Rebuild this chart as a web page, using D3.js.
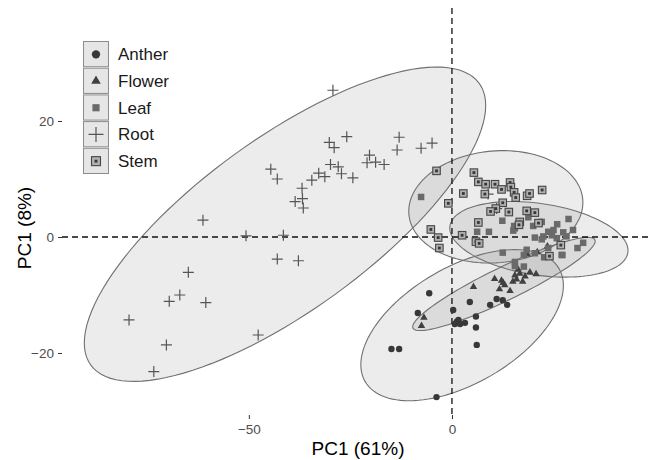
<!DOCTYPE html>
<html>
<head>
<meta charset="utf-8">
<script src="https://cdn.jsdelivr.net/npm/d3@7"></script>
<style>
  body { margin: 0; background: #fff; }
  text { font-family: "Liberation Sans", Arial, sans-serif; }
</style>
</head>
<body>
<div id="chart"></div>
<script>
// tissue groups, in legend order
const groups = ["Anther", "Flower", "Leaf", "Root", "Stem"];

// PCA scores: [PC1, PC2]
const antherPts = [[-5.6,-9.7],[4.4,-11.2],[9.4,-11.7],[11.0,-10.7],[12.5,-10.9],[13.6,-11.7],
  [-8.4,-13.1],[0.3,-12.6],[5.9,-13.7],[1.2,-14.6],[0.7,-15.0],[2.0,-15.0],[3.2,-14.8],[1.6,-14.3],
  [5.9,-15.6],[-14.9,-19.3],[-13.0,-19.3],[6.1,-18.6],[-3.8,-27.6]];
const flowerPts = [[-6.9,-13.9],[-7.5,-15.3],[5.3,-8.6],[10.5,-7.2],[12.6,-7.9],[12.2,-7.5],[13.0,-8.3],
  [11.7,-9.0],[14.3,-9.3],[15.0,-7.7],[15.9,-7.3],[17.4,-7.7],[18.0,-6.8],[19.2,-6.1],[20.7,-6.4],
  [15.5,-6.6],[16.7,-6.3],[16.3,-5.6],[18.5,-3.0],[21.0,-2.6],[23.5,-1.6]];
const leafPts = [[-7.6,6.9],[6.2,0.9],[9.1,0.9],[15.3,1.9],[15.1,1.1],[12.4,2.8],[15.5,1.5],[18.8,3.4],
  [20.0,1.9],[21.5,2.4],[22.1,2.6],[28.7,3.1],[25.9,2.2],[20.4,-0.1],[22.5,0.1],[23.7,0.9],[25.0,1.2],
  [25.8,-0.2],[27.4,0.8],[28.2,0.1],[29.8,1.2],[30.9,-1.9],[32.3,-1.0],[27.0,-3.1],[22.7,-3.5],
  [23.7,-1.9],[18.4,-2.2],[17.7,-3.1],[12.5,-2.7],[15.5,-5.0],[17.7,-5.1],[15.5,-4.3],[24.6,0.3],
  [22.1,-0.4],[20.4,-2.8],[27.2,-3.1]];
const rootPts = [[-29.3,25.3],[-25.9,17.3],[-30.2,16.3],[-29.0,15.4],[-13.0,17.2],[-13.5,15.0],
  [-7.6,15.3],[-4.9,16.2],[-20.3,14.1],[-20.9,12.8],[-18.8,12.9],[-16.7,12.5],[-44.6,11.7],[-43.0,10.0],
  [-29.9,12.5],[-28.0,12.1],[-32.8,11.0],[-31.3,10.4],[-27.2,10.9],[-24.4,10.2],[-34.5,9.8],[-36.9,8.4],
  [-38.6,6.1],[-36.8,6.6],[-36.6,5.0],[-61.3,2.9],[-50.7,0.2],[-41.5,0.3],[-43.0,-3.8],[-37.8,-4.1],
  [-64.9,-6.1],[-69.6,-11.1],[-67.0,-10.0],[-60.6,-11.3],[-79.5,-14.3],[-70.3,-18.6],[-73.4,-23.2],
  [-47.7,-16.9],[8.9,7.4],[11.0,4.9]];
const stemPts = [[-3.8,11.4],[5.4,11.1],[6.5,9.5],[8.3,9.1],[10.6,9.1],[12.2,8.2],[14.3,9.4],[14.5,8.6],
  [15.3,7.7],[15.7,6.8],[2.8,7.5],[8.1,7.4],[-0.9,5.8],[12.5,5.9],[10.8,4.9],[9.5,4.4],[14.0,4.3],
  [18.5,7.1],[18.4,4.5],[6.5,2.5],[16.7,2.6],[16.5,2.1],[-5.2,1.3],[-3.4,-0.1],[2.5,0.3],[5.9,-0.8],
  [6.7,-1.1],[-3.1,-1.9],[22.2,8.1],[19.1,7.5],[20.4,4.2],[21.3,2.4],[26.8,-1.4],[24.0,-3.3]];

// 95% ellipses: centre + two conjugate semi-axes, in data units
const antherEllipse = {cx: 2.5, cy: -15.2, ux: 23.9, uy: 9.7, vx: 7.1, vy: -8.7};
const flowerEllipse = {cx: 12.8, cy: -8.1, ux: 22.4, uy: 7.6, vx: 1.7, vy: -2.6};
const leafEllipse   = {cx: 21.4, cy: -0.4, ux: 21.9, uy: -2.3, vx: -1.3, vy: -6.1};
const rootEllipse   = {cx: -41.1, cy: 2.2, ux: 47.8, uy: 24.3, vx: 12.5, vy: -12.0};
const stemEllipse   = {cx: 10.8, cy: 5.2, ux: 21.4, uy: 1.3, vx: 1.2, vy: -9.6};

const xTicks = [-50, 0];
const yTicks = [-20, 0, 20];

const width = 651, height = 460;

const svg = d3.select('#chart').append('svg')
    .attr('width', width).attr('height', height);

const x = d3.scaleLinear().domain([-96, 49]).range([62, 651]);
const y = d3.scaleLinear().domain([-30.69, 39.48]).range([415, 8]);

const ellipses = [antherEllipse, flowerEllipse, leafEllipse, rootEllipse, stemEllipse];
const line = d3.line().curve(d3.curveLinearClosed);

function ellipsePath(e) {
    const pts = d3.range(0, 120).map(i => {
        const t = i / 120 * 2 * Math.PI;
        return [x(e.cx + e.ux * Math.cos(t) + e.vx * Math.sin(t)),
                y(e.cy + e.uy * Math.cos(t) + e.vy * Math.sin(t))];
    });
    return line(pts);
}

svg.append('g').selectAll('path')
    .data(ellipses)
    .enter().append('path')
    .attr('d', ellipsePath)
    .attr('fill', '#7a7a7a')
    .attr('fill-opacity', 0.14)
    .attr('stroke', '#707070')
    .attr('stroke-width', 1.1);

// reference lines
svg.append('line')
    .attr('x1', x(0)).attr('x2', x(0))
    .attr('y1', y.range()[1]).attr('y2', y.range()[0])
    .attr('stroke', '#111').attr('stroke-width', 1.3)
    .attr('stroke-dasharray', '6,4');
svg.append('line')
    .attr('x1', x.range()[0]).attr('x2', x.range()[1])
    .attr('y1', y(0)).attr('y2', y(0))
    .attr('stroke', '#111').attr('stroke-width', 1.3)
    .attr('stroke-dasharray', '6,4');

// marker drawing, one per group
function drawMarker(sel, group, big) {
    const k = big ? 1.3 : 1;
    if (group === 'Anther') {
        sel.append('circle').attr('r', 3.2 * k).attr('fill', '#383838');
    } else if (group === 'Flower') {
        sel.append('path').attr('d', d3.symbol(d3.symbolTriangle, 24 * k * k)()).attr('fill', '#404040');
    } else if (group === 'Leaf') {
        const s = 6.5 * (big ? 1.1 : 1);
        sel.append('rect').attr('x', -s / 2).attr('y', -s / 2).attr('width', s).attr('height', s)
            .attr('fill', '#6a6a6a');
    } else if (group === 'Root') {
        const s = big ? 7.5 : 5.5;
        sel.append('path').attr('d', `M${-s},0H${s}M0,${-s}V${s}`)
            .attr('stroke', '#555').attr('stroke-width', 1.2).attr('fill', 'none');
    } else {
        const s = 7.5 * (big ? 1.2 : 1);
        sel.append('rect').attr('x', -s / 2).attr('y', -s / 2).attr('width', s).attr('height', s)
            .attr('fill', '#b0b0b0').attr('stroke', '#464646').attr('stroke-width', 1.1);
        sel.append('rect').attr('x', -1.4).attr('y', -1.4).attr('width', 2.8).attr('height', 2.8)
            .attr('fill', '#363636');
    }
}

const pointSets = [antherPts, flowerPts, leafPts, rootPts, stemPts];
const gPts = svg.append('g');
groups.forEach((grp, gi) => {
    gPts.selectAll(null)
        .data(pointSets[gi])
        .enter().append('g')
        .attr('transform', d => `translate(${x(d[0])},${y(d[1])})`)
        .each(function () { drawMarker(d3.select(this), grp, false); });
});

// axes
const xAxis = svg.append('g')
    .attr('transform', 'translate(0,415)')
    .call(d3.axisBottom(x).tickValues(xTicks).tickSize(4).tickPadding(5));
const yAxis = svg.append('g')
    .attr('transform', 'translate(62,0)')
    .call(d3.axisLeft(y).tickValues(yTicks).tickSize(4).tickPadding(4));
[xAxis, yAxis].forEach(a => {
    a.select('.domain').remove();
    a.selectAll('.tick line').attr('stroke', '#333');
    a.selectAll('.tick text').attr('fill', '#4d4d4d').style('font-size', '13.5px')
        .style('font-family', '"Liberation Sans", Arial, sans-serif');
});

svg.append('text')
    .attr('x', 358).attr('y', 455)
    .attr('text-anchor', 'middle')
    .style('font-size', '19px')
    .text('PC1 (61%)');
svg.append('text')
    .attr('transform', 'translate(31,228) rotate(-90)')
    .attr('text-anchor', 'middle')
    .style('font-size', '19px')
    .text('PC1 (8%)');

// legend
const legend = svg.append('g').attr('transform', 'translate(83,41)');
const keyH = 26.7;
const items = legend.selectAll('g').data(groups).enter().append('g')
    .attr('transform', (d, i) => `translate(0,${i * keyH})`);
items.append('rect')
    .attr('x', 0.5).attr('y', 0.5).attr('width', 25).attr('height', keyH - 1.5)
    .attr('fill', '#e6e6e6').attr('stroke', '#8c8c8c').attr('stroke-width', 1);
items.append('g')
    .attr('transform', `translate(13,${keyH / 2})`)
    .each(function (d) { drawMarker(d3.select(this), d, true); });
items.append('text')
    .attr('x', 35).attr('y', keyH / 2 + 6)
    .style('font-size', '17px')
    .attr('fill', '#1a1a1a')
    .text(d => d);
</script>
</body>
</html>
